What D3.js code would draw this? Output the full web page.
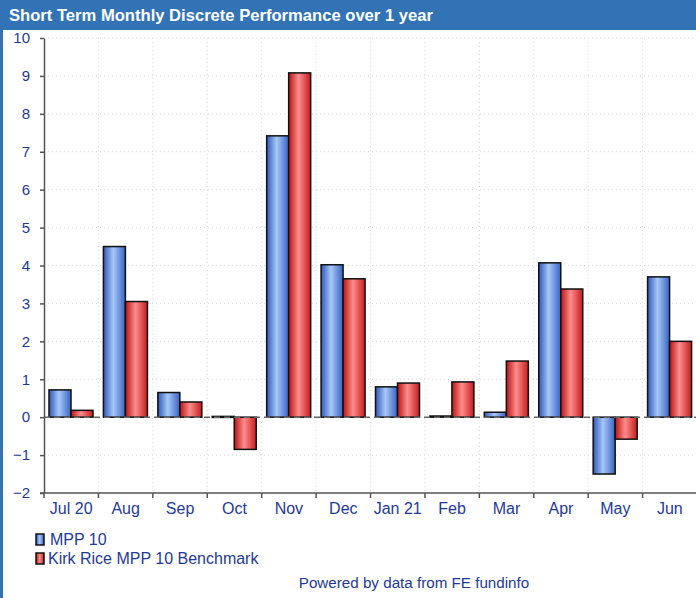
<!DOCTYPE html>
<html lang="en">
<head>
<meta charset="UTF-8">
<style>
    body {margin: 0; background: #fff; font-family: "Liberation Sans", Arial, sans-serif;}
    svg {display: block;}
</style>
</head>
<body>
<div id="chart"></div>
<script src="https://d3js.org/d3.v7.min.js"></script>
<script>
// data
var months = ["Jul 20", "Aug", "Sep", "Oct", "Nov", "Dec", "Jan 21", "Feb", "Mar", "Apr", "May", "Jun"];
var fundValues = [0.72, 4.5, 0.65, 0.02, 7.42, 4.02, 0.8, 0.03, 0.13, 4.07, -1.5, 3.7];
var benchValues = [0.18, 3.05, 0.4, -0.85, 9.08, 3.65, 0.9, 0.93, 1.48, 3.38, -0.58, 2.0];
var seriesNames = ["MPP 10", "Kirk Rice MPP 10 Benchmark"];
var yTicks = [-2, -1, 0, 1, 2, 3, 4, 5, 6, 7, 8, 9, 10];

var W = 696, H = 598;
var textColor = "#1f3a93";

var svg = d3.select("#chart").append("svg")
    .attr("width", W)
    .attr("height", H);

// gradients for the bars
var defs = svg.append("defs");
function grad(id, edge, light, edge2) {
    var g = defs.append("linearGradient").attr("id", id)
        .attr("x1", "0%").attr("x2", "100%").attr("y1", "0%").attr("y2", "0%");
    g.append("stop").attr("offset", "0%").attr("stop-color", edge);
    g.append("stop").attr("offset", "45%").attr("stop-color", light);
    g.append("stop").attr("offset", "100%").attr("stop-color", edge2);
}
grad("gBlue", "#2f57b8", "#a6c8f7", "#3862c4");
grad("gRed", "#b81414", "#ff8c8c", "#c41c1c");

// title bar + left border
svg.append("rect").attr("x", 0).attr("y", 0).attr("width", W).attr("height", 30).attr("fill", "#3273b6");
svg.append("rect").attr("x", 0).attr("y", 0).attr("width", 3).attr("height", H).attr("fill", "#3273b6");
svg.append("text")
    .attr("x", 9).attr("y", 21)
    .attr("fill", "#fff")
    .style("font-size", "16.6px").style("font-weight", "bold")
    .text("Short Term Monthly Discrete Performance over 1 year");

var plotLeft = 44, plotRight = 697, plotTop = 38, plotBottom = 493;

var x = d3.scaleBand().domain(months).range([plotLeft, plotRight]);
var y = d3.scaleLinear().domain([-2, 10]).range([plotBottom, plotTop]);
var x1 = d3.scaleBand().domain([0, 1]).range([0, 44]);

// grid
var grid = svg.append("g").attr("stroke", "#d8d8d8").attr("stroke-dasharray", "1,3");
yTicks.forEach(function(t) {
    if (t === 0 || t === -2) return;
    grid.append("line").attr("x1", plotLeft).attr("x2", W).attr("y1", y(t)).attr("y2", y(t));
});
months.forEach(function(m, i) {
    if (i === 0) return;
    grid.append("line").attr("x1", x(m)).attr("x2", x(m)).attr("y1", plotTop).attr("y2", plotBottom);
});

// bars
var groups = svg.append("g").selectAll("g")
    .data(months)
    .enter().append("g")
    .attr("transform", function(d) { return "translate(" + (x(d) + 5) + ",0)"; });

[fundValues, benchValues].forEach(function(vals, s) {
    groups.append("rect")
        .attr("x", x1(s))
        .attr("y", function(d, i) { return y(Math.max(0, vals[i])); })
        .attr("width", x1.bandwidth())
        .attr("height", function(d, i) { return Math.max(1, Math.abs(y(vals[i]) - y(0))); })
        .attr("fill", s === 0 ? "url(#gBlue)" : "url(#gRed)")
        .attr("stroke", "#111")
        .attr("stroke-width", 1.5);
});

// zero line
svg.append("line")
    .attr("x1", plotLeft).attr("x2", W)
    .attr("y1", y(0)).attr("y2", y(0))
    .attr("stroke", "#666").attr("stroke-width", 1.5)
    .attr("stroke-dasharray", "6,4");

// y axis
var yAxis = svg.append("g")
    .attr("transform", "translate(" + plotLeft + ",0)")
    .call(d3.axisLeft(y).tickValues(yTicks).tickSize(4).tickSizeOuter(0).tickPadding(10));
yAxis.select(".domain").attr("stroke", "#555").attr("stroke-width", 1.5);
yAxis.selectAll(".tick line").attr("stroke", "#555").attr("stroke-width", 1.5);
yAxis.selectAll("text").attr("fill", textColor).style("font-size", "15px")
    .style("font-family", "'Liberation Sans', Arial, sans-serif");

// x axis
var xAxis = svg.append("g")
    .attr("transform", "translate(0," + plotBottom + ")")
    .call(d3.axisBottom(x).tickSize(0).tickPadding(10));
xAxis.select(".domain").remove();
svg.append("line").attr("x1", plotLeft - 4).attr("x2", W).attr("y1", plotBottom).attr("y2", plotBottom)
    .attr("stroke", "#555").attr("stroke-width", 1.5);
months.forEach(function(m, i) {
    svg.append("line").attr("x1", x(m)).attr("x2", x(m)).attr("y1", plotBottom).attr("y2", plotBottom + 5)
        .attr("stroke", "#555").attr("stroke-width", 1.5);
});
xAxis.selectAll("text").attr("fill", textColor).style("font-size", "16px")
    .style("font-family", "'Liberation Sans', Arial, sans-serif");

// legend
var legend = svg.append("g");
seriesNames.forEach(function(name, i) {
    var ly = 534 + i * 19;
    legend.append("rect").attr("x", 36).attr("y", ly).attr("width", 8).attr("height", 11)
        .attr("fill", i === 0 ? "url(#gBlue)" : "url(#gRed)")
        .attr("stroke", "#111").attr("stroke-width", 1.5);
    legend.append("text").attr("x", i === 0 ? 50 : 48).attr("y", ly + 11)
        .attr("fill", textColor).style("font-size", "16px").text(name);
});

svg.append("text")
    .attr("x", 414).attr("y", 588)
    .attr("text-anchor", "middle")
    .attr("fill", textColor).style("font-size", "15.2px")
    .text("Powered by data from FE fundinfo");
</script>
</body>
</html>
